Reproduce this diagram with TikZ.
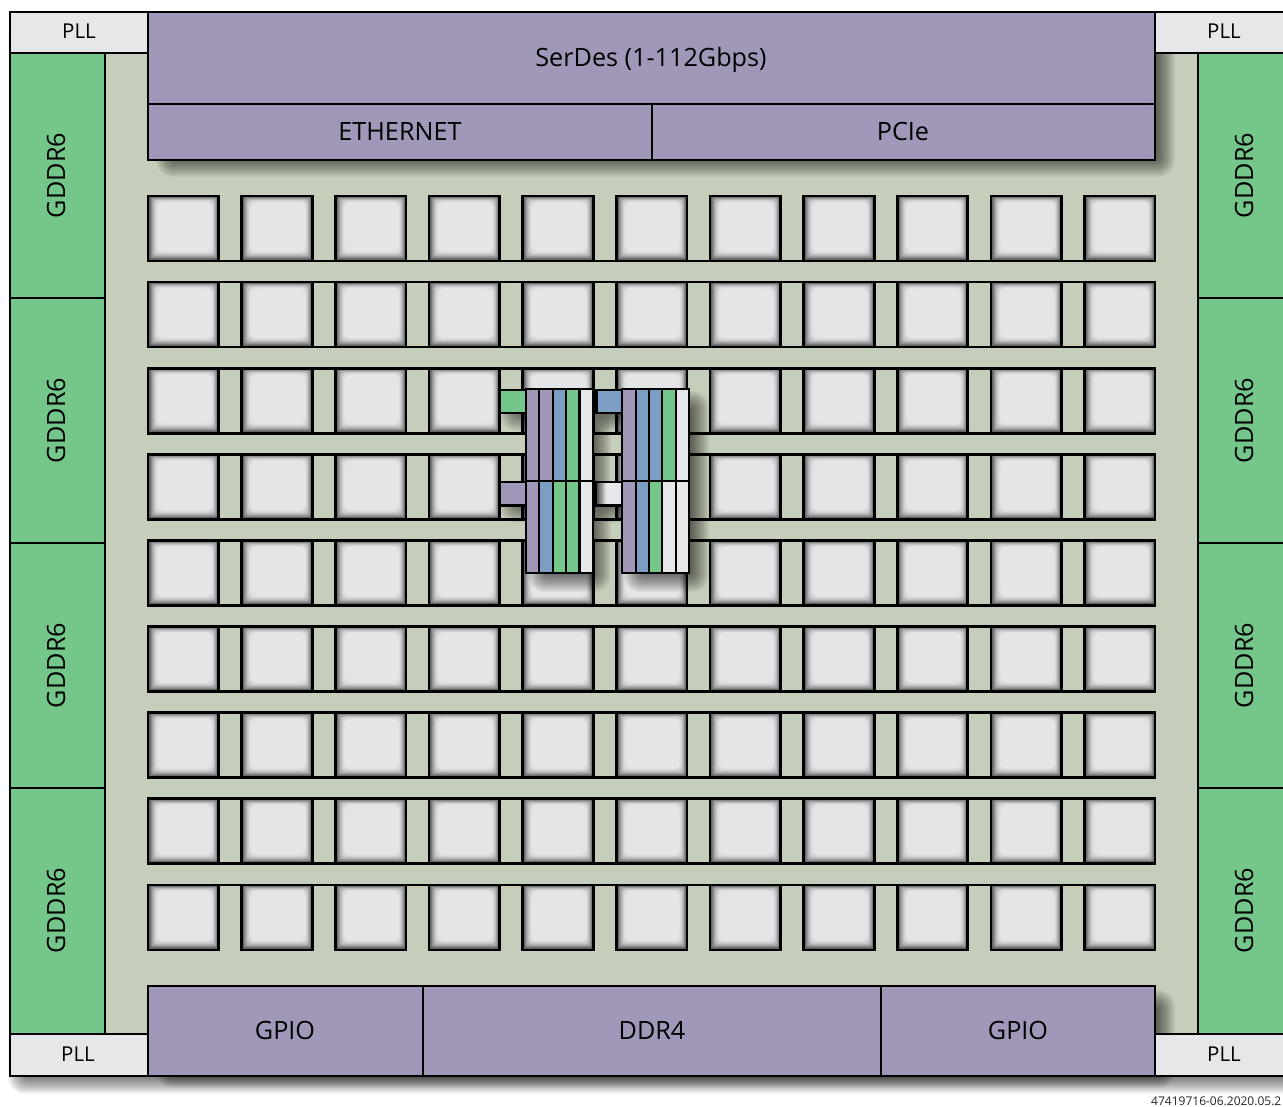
\documentclass[tikz,border=0pt]{standalone}
\usepackage{fontspec}
\setmainfont{Open Sans}
\definecolor{cpurple}{HTML}{A197B8}
\definecolor{cgreen}{HTML}{74C68B}
\definecolor{cblue}{HTML}{7C9EC4}
\definecolor{cwhite}{HTML}{E6E7E8}
\definecolor{cbg}{HTML}{C5CEBA}
\newcommand{\softshadow}[6][0.05]{%
  \foreach \k in {-10,...,10}{%
    \fill[black,fill opacity=#1,rounded corners={(\k+11)*0.8pt}]
      ({#2-\k},{#3-\k}) rectangle ({#4+\k},{#5+\k});
  }}
\newcommand{\blk}[7][]{%
  \node[block,fill=#7,minimum width={(#4-#2)*1pt},minimum height={(#5-#3)*1pt},#1]
    (#6) at ({(#2+#4)/2},{(#3+#5)/2}) {};}
\tikzset{
  block/.style={draw=black,line width=2.4pt,inner sep=0pt,outer sep=0pt},
  tile/.style={draw=black,line width=2.7pt,inner sep=0pt,outer sep=0pt,minimum width=70.6pt,minimum height=65pt},
  stripe/.style={draw=black,line width=2.2pt},
  lab/.style={font=\fontsize{25.2}{30}\selectfont,text=black,inner sep=0pt},
  plllab/.style={font=\fontsize{20.5}{25}\selectfont,text=black,inner sep=0pt},
}
\begin{document}
\begin{tikzpicture}[x=1pt,y=-1pt]
\useasboundingbox (0,0) rectangle (1283,1107);
\clip (0,0) rectangle (1283,1107);
\fill[white] (0,0) rectangle (1283,1107);
% outer shadow
\softshadow[0.035]{18}{30}{1300}{1084}{0}{0}
% background
\fill[cbg] (105,53) rectangle (1198,1034);
% tiles
\foreach \r [evaluate=\r as \ty using {196+(\r-1)*86.12}] in {1,...,9}{
  \foreach \c [evaluate=\c as \tx using {148+(\c-1)*93.65}] in {1,...,11}{
    \fill[black!60!cwhite] (\tx,\ty) rectangle ({\tx+70.6},{\ty+65});
    \foreach \k in {1,...,9}{
      \pgfmathsetmacro{\p}{100-(10-\k)*(10-\k)*0.68}
      \fill[cwhite!\p!black,rounded corners={\k*0.7pt}]
        ({\tx+0.5+\k},{\ty+\k*0.7}) rectangle ({\tx+70.6-\k*0.8},{\ty+65-0.5-\k});
    }
    \node[tile] (t-\r-\c) at ({\tx+35.3},{\ty+32.5}) {};
  }
}
% gap lines between neighbouring tiles
\foreach \c [evaluate=\c as \d using int(\c+1)] in {1,...,10}{
  \foreach \r in {1,...,8}{
    \draw[black,line width=2.7pt] (t-\r-\c.south east) -- (t-\r-\d.south west);
  }
  \foreach \r in {2,...,9}{
    \draw[black,line width=2.7pt] (t-\r-\c.north east) -- (t-\r-\d.north west);
  }
}
% block shadows
\softshadow[0.034]{166}{30}{1165}{167}{0}{0}
\softshadow[0.034]{166}{1000}{1165}{1078}{0}{0}
% memory and PLL
\blk{10}{53}{105}{298}{g1}{cgreen}
\blk{10}{298}{105}{543}{g2}{cgreen}
\blk{10}{543}{105}{788}{g3}{cgreen}
\blk{10}{788}{105}{1034}{g4}{cgreen}
\blk{1198}{53}{1300}{298}{g5}{cgreen}
\blk{1198}{298}{1300}{543}{g6}{cgreen}
\blk{1198}{543}{1300}{788}{g7}{cgreen}
\blk{1198}{788}{1300}{1034}{g8}{cgreen}
\blk{10}{12}{148}{53}{p1}{cwhite}
\blk{1155}{12}{1300}{53}{p2}{cwhite}
\blk{10}{1034}{148}{1076}{p3}{cwhite}
\blk{1155}{1034}{1300}{1076}{p4}{cwhite}
\blk{148}{12}{1155}{104}{serdes}{cpurple}
\blk{148}{104}{652}{160}{eth}{cpurple}
\blk{652}{104}{1155}{160}{pcie}{cpurple}
\blk{148}{986}{423}{1076}{gpioa}{cpurple}
\blk{423}{986}{881}{1076}{ddr}{cpurple}
\blk{881}{986}{1155}{1076}{gpiob}{cpurple}
% labels
\node[lab,anchor=base] (lserdes) at (651,66.5) {SerDes (1-112Gbps)};
\node[lab,anchor=base] (leth) at (400,141) {ETHERNET};
\node[lab,anchor=base] (lpcie) at (903,141) {PCIe};
\node[lab,anchor=base] (lgpioa) at (285,1039) {GPIO};
\node[lab,anchor=base] (lddr) at (652,1039) {DDR4};
\node[lab,anchor=base] (lgpiob) at (1018,1039) {GPIO};
\node[plllab,anchor=base] (lp1) at (79,39) {PLL};
\node[plllab,anchor=base] (lp2) at (1224,39) {PLL};
\node[plllab,anchor=base] (lp3) at (78,1061) {PLL};
\node[plllab,anchor=base] (lp4) at (1224,1061) {PLL};
\foreach \n/\y in {1/175.5,2/420.5,3/665.5,4/910.5}{
  \node[lab,rotate=90] (lgl\n) at (56,\y) {GDDR6};
  \node[lab,rotate=90] (lgr\n) at (1244,\y) {GDDR6};
}
% central detail: shadows
\softshadow[0.037]{538}{401}{601}{582}{0}{0}
\softshadow[0.037]{634}{401}{699}{582}{0}{0}
\softshadow[0.03]{510}{400}{534}{421}{0}{0}
\softshadow[0.03]{510}{492}{534}{513}{0}{0}
\softshadow[0.03]{604}{400}{630}{421}{0}{0}
\softshadow[0.03]{604}{492}{630}{513}{0}{0}
% central detail: stripes
\foreach \bx/\cola/\colb/\colc/\cold/\cole/\colf/\colg/\colh/\coli/\colj in {
  526/cpurple/cpurple/cblue/cgreen/cwhite/cpurple/cblue/cgreen/cgreen/cwhite,
  622.3/cpurple/cblue/cblue/cgreen/cwhite/cpurple/cblue/cgreen/cwhite/cwhite}{
  \foreach \i/\ca/\cb in {0/\cola/\colf,1/\colb/\colg,2/\colc/\colh,3/\cold/\coli,4/\cole/\colj}{
    \fill[\ca] ({\bx+\i*13.35},389) rectangle ({\bx+(\i+1)*13.35},481);
    \fill[\cb] ({\bx+\i*13.35},481) rectangle ({\bx+(\i+1)*13.35},573);
    \draw[stripe] ({\bx+\i*13.35},389) rectangle ({\bx+(\i+1)*13.35},573);
  }
  \draw[stripe] (\bx,389) rectangle ({\bx+66.8},573);
  \draw[stripe] (\bx,481) -- ({\bx+66.8},481);
}
\blk[line width=2.2pt]{500}{390}{526}{413}{sg}{cgreen}
\blk[line width=2.2pt]{596}{390}{622.3}{413}{sb}{cblue}
\blk[line width=2.2pt]{500}{482}{526}{505.5}{sp}{cpurple}
\blk[line width=2.2pt]{596}{482}{622.3}{505.5}{sw}{cwhite}
\shade[left color=black!65!cwhite,right color=cwhite]
  (597,483) rectangle (606,504.5);
\draw[line width=2.2pt] (sw.north west) rectangle (sw.south east);
\draw[black,line width=3pt] (596,390) -- (596,413);
% reference code
\node[font=\fontsize{12}{14}\selectfont,anchor=base west,inner sep=0pt,text=black!85] (code) at (1151,1105.5) {47419716-06.2020.05.2};
\end{tikzpicture}
\end{document}
